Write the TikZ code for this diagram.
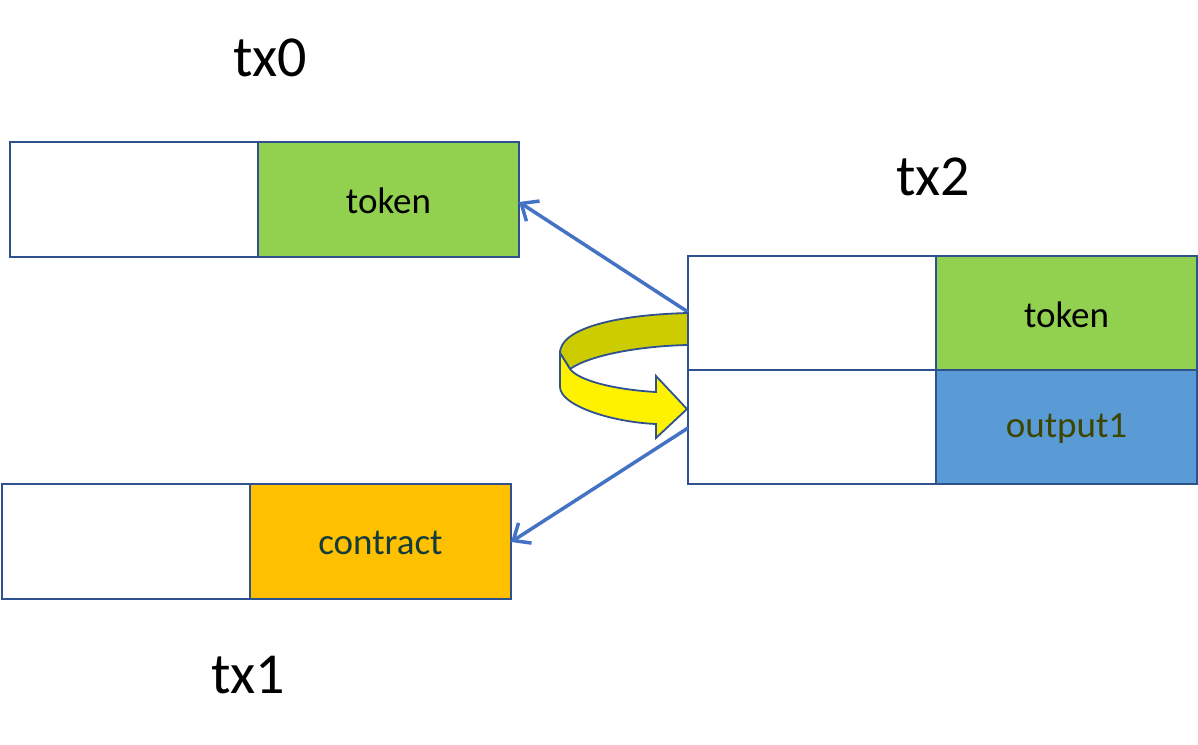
\documentclass[tikz,border=0pt]{standalone}
\usepackage{fontspec}
\usetikzlibrary{arrows.meta}
\setmainfont{Carlito}
\begin{document}
\begin{tikzpicture}[x=1pt,y=-1pt,
  cell/.style={draw={rgb,255:red,47;green,82;blue,143},line width=2pt},
  big/.style={font=\fontsize{58}{64}\selectfont},
  small/.style={font=\fontsize{37}{42}\selectfont},
  link/.style={draw={rgb,255:red,68;green,114;blue,196},line width=3.5pt,-{Straight Barb[length=14pt,width=24pt]}}]
\useasboundingbox (0,0) rectangle (1198,744);
\definecolor{grn}{RGB}{146,208,80}
\definecolor{blu}{RGB}{91,155,213}
\definecolor{org}{RGB}{255,192,0}
% tx0
\draw[cell] (10,142) rectangle (258,257);
\draw[cell,fill=grn] (258,142) rectangle (519,257);
\node[small] (t0) at (388.5,201) {token};
\coordinate (t0e) at (519,202);
\node[big] (l0) at (270,58) {tx0};
% tx1
\draw[cell] (2,484) rectangle (250,599);
\draw[cell,fill=org] (250,484) rectangle (511,599);
\node[small,text={rgb,255:red,20;green,60;blue,60}] (c1) at (380.5,543) {contract};
\coordinate (t1e) at (511,542);
\node[big] (l1) at (248,675) {tx1};
% tx2
\draw[cell] (688,256) rectangle (936,370);
\draw[cell,fill=grn] (936,256) rectangle (1197,370);
\draw[cell] (688,370) rectangle (936,484);
\draw[cell,fill=blu] (936,370) rectangle (1197,484);
\node[small] (t2) at (1066.5,315) {token};
\node[small,text={rgb,255:red,60;green,70;blue,0}] (o2) at (1066.5,429) {output1};
\node[big] (l2) at (933,177) {tx2};
\coordinate (s0) at (688,312);
\coordinate (s1) at (688,428);
\draw[link] (s0) -- (t0e);
\draw[link] (s1) -- (t1e);
% curved arrow
\draw[cell,line width=1.8pt,fill={rgb,255:red,204;green,204;blue,0}] (688,313) .. controls (610,315) and (560,330) .. (560,353) -- (570,369) .. controls (590,355) and (640,346) .. (688,345) -- cycle;
\draw[cell,line width=1.8pt,fill=yellow] (560,353) -- (560,387) .. controls (560,405) and (610,422) .. (656,424) -- (656,438) -- (687,409) -- (656,376) -- (656,392) .. controls (620,390) and (580,382) .. (570,369) -- cycle;
\end{tikzpicture}
\end{document}
